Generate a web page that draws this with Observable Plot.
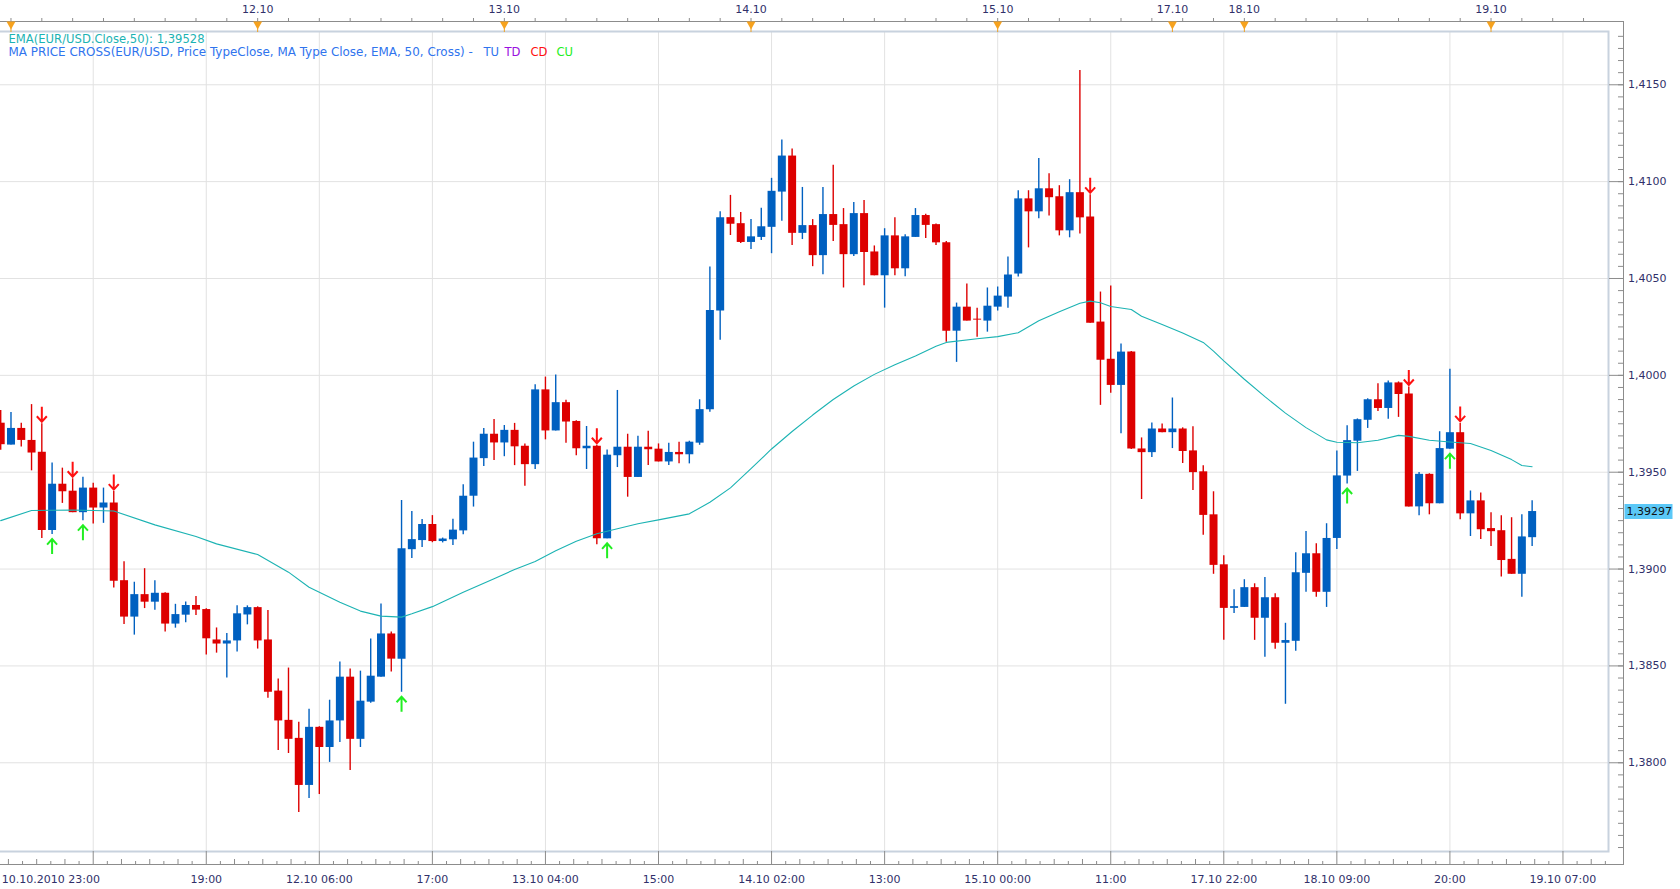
<!DOCTYPE html>
<html><head><meta charset="utf-8">
<script src="https://cdn.jsdelivr.net/npm/d3@7"></script>
<script src="https://cdn.jsdelivr.net/npm/@observablehq/plot@0.6"></script>
<style>
html,body{margin:0;padding:0;background:#fff;}
#chart{width:1680px;height:889px;overflow:hidden;}
</style></head><body><div id="chart"></div>
<script>
// ---- Data (EUR/USD hourly, candle index 0 = 10.10.2010 23:00) ----
const open = [
1.39753,1.39640,1.39726,1.39664,1.39603,1.39199,1.39438,1.39402,1.39291,1.39418,
1.39315,1.39341,1.38940,1.38752,1.38868,1.38829,1.38875,1.38716,1.38762,1.38812,
1.38791,1.38634,1.38613,1.38629,1.38763,1.38801,1.38634,1.38370,1.38219,1.38126,
1.37883,1.38183,1.38079,1.38216,1.38442,1.38121,1.38313,1.38442,1.38665,1.38535,
1.39100,1.39147,1.39230,1.39142,1.39151,1.39197,1.39376,1.39570,1.39696,1.39651,
1.39716,1.39634,1.39539,1.39925,1.39713,1.39859,1.39762,1.39621,1.39634,1.39156,
1.39585,1.39629,1.39473,1.39629,1.39619,1.39553,1.39602,1.39590,1.39650,1.39823,
1.40332,1.40814,1.40783,1.40686,1.40712,1.40764,1.40946,1.41132,1.40733,1.40773,
1.40618,1.40830,1.40778,1.40623,1.40835,1.40637,1.40514,1.40720,1.40550,1.40712,
1.40825,1.40778,1.40684,1.40228,1.40352,1.40290,1.40280,1.40352,1.40404,1.40523,
1.40911,1.40844,1.40963,1.40922,1.40746,1.40943,1.40818,1.40275,1.40083,1.39948,
1.40120,1.39620,1.39601,1.39723,1.39704,1.39723,1.39610,1.39502,1.39280,1.39022,
1.38797,1.38802,1.38904,1.38746,1.38852,1.38617,1.38627,1.38978,1.39079,1.38880,
1.39158,1.39480,1.39660,1.39768,1.39874,1.39829,1.39961,1.39904,1.39321,1.39489,
1.39337,1.39619,1.39704,1.39285,1.39352,1.39209,1.39198,1.39050,1.38973,1.39162];
const high = [
1.39818,1.39808,1.39753,1.39849,1.39750,1.39548,1.39521,1.39466,1.39474,1.39443,
1.39418,1.39400,1.39038,1.38932,1.39002,1.38940,1.38878,1.38818,1.38830,1.38858,
1.38795,1.38696,1.38668,1.38810,1.38810,1.38805,1.38786,1.38432,1.38489,1.38209,
1.38276,1.38186,1.38323,1.38520,1.38484,1.38473,1.38639,1.38820,1.38675,1.39354,
1.39297,1.39256,1.39276,1.39160,1.39257,1.39435,1.39655,1.39726,1.39772,1.39741,
1.39752,1.39646,1.39951,1.39991,1.40002,1.39871,1.39765,1.39736,1.39639,1.39614,
1.39922,1.39696,1.39685,1.39711,1.39646,1.39650,1.39655,1.39660,1.39874,1.40559,
1.40845,1.40929,1.40840,1.40804,1.40863,1.41017,1.41215,1.41168,1.40970,1.40804,
1.40970,1.41085,1.40861,1.40892,1.40903,1.40668,1.40757,1.40814,1.40726,1.40861,
1.40832,1.40781,1.40691,1.40373,1.40471,1.40347,1.40451,1.40456,1.40611,1.40953,
1.40953,1.41119,1.41041,1.40979,1.41010,1.41574,1.40932,1.40430,1.40461,1.40162,
1.40123,1.39677,1.39754,1.39749,1.39883,1.39729,1.39734,1.39533,1.39399,1.39069,
1.38893,1.38945,1.38924,1.38957,1.38873,1.38720,1.39084,1.39194,1.39131,1.39234,
1.39610,1.39740,1.39775,1.39879,1.39956,1.39971,1.39966,1.39940,1.39499,1.39492,
1.39709,1.40032,1.39752,1.39403,1.39393,1.39291,1.39275,1.39265,1.39280,1.39352];
const low = [
1.39613,1.39640,1.39630,1.39507,1.39158,1.39178,1.39339,1.39291,1.39250,1.39233,
1.39236,1.38902,1.38714,1.38659,1.38796,1.38788,1.38675,1.38695,1.38723,1.38760,
1.38556,1.38566,1.38437,1.38572,1.38712,1.38587,1.38333,1.38064,1.38048,1.37743,
1.37815,1.37836,1.38002,1.38105,1.37960,1.38079,1.38307,1.38442,1.38468,1.38364,
1.39054,1.39111,1.39136,1.39135,1.39121,1.39177,1.39320,1.39529,1.39560,1.39580,
1.39534,1.39427,1.39514,1.39667,1.39713,1.39650,1.39585,1.39514,1.39126,1.39156,
1.39524,1.39371,1.39473,1.39534,1.39553,1.39534,1.39543,1.39543,1.39639,1.39810,
1.40181,1.40722,1.40681,1.40649,1.40696,1.40628,1.40795,1.40670,1.40701,1.40561,
1.40519,1.40691,1.40451,1.40613,1.40462,1.40514,1.40347,1.40514,1.40509,1.40712,
1.40707,1.40670,1.40171,1.40067,1.40280,1.40197,1.40223,1.40332,1.40347,1.40508,
1.40658,1.40808,1.40823,1.40720,1.40710,1.40730,1.40269,1.39845,1.39907,1.39699,
1.39617,1.39359,1.39576,1.39704,1.39622,1.39545,1.39405,1.39174,1.38973,1.38632,
1.38771,1.38802,1.38632,1.38545,1.38586,1.38302,1.38576,1.38880,1.38854,1.38802,
1.39101,1.39439,1.39504,1.39726,1.39814,1.39773,1.39783,1.39321,1.39275,1.39280,
1.39337,1.39619,1.39255,1.39168,1.39152,1.39116,1.38959,1.38973,1.38855,1.39116];
const close = [
1.39642,1.39726,1.39664,1.39599,1.39199,1.39438,1.39399,1.39291,1.39418,1.39315,
1.39341,1.38937,1.38752,1.38868,1.38829,1.38875,1.38716,1.38765,1.38812,1.38788,
1.38640,1.38613,1.38629,1.38769,1.38801,1.38629,1.38364,1.38216,1.38121,1.37883,
1.38183,1.38079,1.38216,1.38442,1.38121,1.38318,1.38447,1.38665,1.38535,1.39105,
1.39152,1.39230,1.39142,1.39155,1.39201,1.39376,1.39573,1.39696,1.39651,1.39716,
1.39631,1.39539,1.39925,1.39713,1.39859,1.39759,1.39621,1.39634,1.39156,1.39588,
1.39629,1.39473,1.39629,1.39616,1.39553,1.39602,1.39590,1.39655,1.39823,1.40335,
1.40814,1.40780,1.40686,1.40715,1.40767,1.40950,1.41132,1.40733,1.40773,1.40618,
1.40830,1.40774,1.40623,1.40835,1.40634,1.40514,1.40720,1.40550,1.40715,1.40825,
1.40774,1.40684,1.40227,1.40352,1.40280,1.40285,1.40357,1.40409,1.40518,1.40911,
1.40844,1.40963,1.40917,1.40746,1.40943,1.40813,1.40269,1.40078,1.39948,1.40120,
1.39620,1.39601,1.39723,1.39704,1.39723,1.39607,1.39498,1.39277,1.39019,1.38797,
1.38806,1.38904,1.38746,1.38852,1.38617,1.38631,1.38981,1.39079,1.38880,1.39158,
1.39481,1.39663,1.39771,1.39874,1.39829,1.39961,1.39901,1.39321,1.39489,1.39337,
1.39622,1.39704,1.39285,1.39352,1.39203,1.39193,1.39044,1.38973,1.39166,1.39297];

// EMA(50) at these candle indices
const emaIdx = [0,3,7,11,15,19,21,25,28,30,33,35,37,39,40,42,45,48,50,52,54,56,58,60,62,64,67,69,71,73,75,77,79,81,83,85,87,89,91,92,95,97,99,101,103,105,106,107,108,110,111,113,115,117,118,119,121,123,125,127,129,130,132,134,136,137,139,141,143,145,147,148,149];
const emaVal = [1.39250,1.39302,1.39305,1.39300,1.39228,1.39168,1.39130,1.39075,1.38984,1.38906,
1.38829,1.38783,1.38757,1.38752,1.38769,1.38806,1.38880,1.38950,1.38998,1.39039,
1.39094,1.39144,1.39182,1.39208,1.39234,1.39254,1.39285,1.39345,1.39419,1.39518,
1.39620,1.39710,1.39795,1.39875,1.39945,1.40005,1.40055,1.40100,1.40150,1.40170,
1.40189,1.40200,1.40220,1.40282,1.40328,1.40372,1.40383,1.40375,1.40355,1.40340,
1.40305,1.40262,1.40218,1.40170,1.40125,1.40075,1.39980,1.39890,1.39805,1.39730,
1.39667,1.39655,1.39652,1.39665,1.39690,1.39685,1.39665,1.39656,1.39648,1.39612,
1.39565,1.39535,1.39528];

const crossDownIdx = [4, 7, 11, 58, 106, 137, 142];   // CD signals
const crossUpIdx = [5, 8, 39, 59, 131, 141];           // CU signals

const gridIdx = [9,20,31,42,53,64,75,86,97,108,119,130,141,152];
const timeTickIdx = [0,20,31,42,53,64,75,86,97,108,119,130,141,152];
const timeTickLabels = ["10.10.2010 23:00","19:00","12.10 06:00","17:00","13.10 04:00","15:00","14.10 02:00","13:00","15.10 00:00","11:00","17.10 22:00","18.10 09:00","20:00","19.10 07:00"];
const dayIdx = [1, 25, 49, 73, 97, 114, 121, 145];
const dayLabels = ["11.10","12.10","13.10","14.10","15.10","17.10","18.10","19.10"];
const priceTicks = [1.380,1.385,1.390,1.395,1.400,1.405,1.410,1.415];
const lastPrice = 1.39297;
const emaLast = 1.39528;

// ---- Derived ----
const fmt4 = v => v.toFixed(4).replace(".", ",");
const fmt5 = v => v.toFixed(5).replace(".", ",");
const candles = open.map((o, i) => ({i, o, h: high[i], l: low[i], c: close[i], up: close[i] >= o}));
const ema = emaIdx.map((i, k) => ({i, v: emaVal[k]}));
const downSig = crossDownIdx.map(i => candles[i]);
const upSig = crossUpIdx.map(i => candles[i]);
const xDomain = [-0.02, 156.43];
const yDomain = [1.37542, 1.41775];
const topTicks = d3.range(1, 157, 3);
const majorsX = [-2, ...gridIdx];
const minorA = [], minorB = [];
for (const m of majorsX) for (let k = 1; k < 8; k++) {
  const v = m + k * 11 / 8;
  if (v > xDomain[0] && v < xDomain[1]) (k % 2 ? minorA : minorB).push(v);
}
const minorY = d3.range(0, 70).map(k => 1.375 + k * 0.000625).filter(v => v > yDomain[0] && v < yDomain[1]);

const BLUE = "#0060c0", RED = "#dd0000", TEAL = "#1cb3b3", AXIS = "#8c8c8c", LBL = "#30306a";
const arrowDown = {draw(ctx) { ctx.moveTo(0, -15); ctx.lineTo(0, 0); ctx.moveTo(-5, -5.5); ctx.lineTo(0, 0); ctx.lineTo(5, -5.5); }};
const arrowUp = {draw(ctx) { ctx.moveTo(0, 15); ctx.lineTo(0, 0); ctx.moveTo(-5, 5.5); ctx.lineTo(0, 0); ctx.lineTo(5, 5.5); }};
const triDown = {draw(ctx) { ctx.moveTo(-4.5, 0); ctx.lineTo(4.5, 0); ctx.lineTo(0, 8); ctx.closePath(); }};
const priceBox = {draw(ctx) { ctx.rect(0, -7.5, 48, 15); }};

const chart = Plot.plot({
  width: 1680, height: 889,
  marginLeft: 0, marginRight: 72, marginTop: 31, marginBottom: 38,
  x: {domain: xDomain, axis: null},
  y: {domain: yDomain, axis: null},
  style: {fontFamily: "'DejaVu Sans', sans-serif", fontSize: "11px", color: LBL, background: "#fff", overflow: "visible"},
  marks: [
    // grid
    Plot.ruleY(priceTicks, {stroke: "#e2e2e2"}),
    Plot.ruleX(gridIdx, {stroke: "#e2e2e2"}),
    // frames
    Plot.frame({stroke: "#c8d2de", strokeWidth: 2, insetLeft: -4}),
    Plot.frame({stroke: AXIS, insetTop: -10, insetRight: -15, insetBottom: -13, insetLeft: -6}),
    // top time axis
    Plot.axisX({anchor: "top", ticks: topTicks, tickSize: 4, dy: -10, fill: "none", stroke: AXIS}),
    Plot.axisX({anchor: "top", ticks: dayIdx, tickSize: 10, fill: "none", stroke: "#f0a020"}),
    Plot.dot(dayIdx, {x: d => d, frameAnchor: "top", dy: -10, symbol: triDown, fill: "#f6a21e", stroke: "none"}),
    Plot.text(dayIdx.slice(1), {x: d => d, text: (d, k) => dayLabels[k + 1], frameAnchor: "top", lineAnchor: "middle", dy: -22.5, fill: LBL}),
    // bottom time axis
    Plot.axisX({anchor: "bottom", ticks: gridIdx, tickSize: 13, fill: "none", stroke: AXIS}),
    Plot.axisX({anchor: "bottom", ticks: minorA, tickSize: 3, dy: 10, fill: "none", stroke: AXIS}),
    Plot.axisX({anchor: "bottom", ticks: minorB, tickSize: 5, dy: 8, fill: "none", stroke: AXIS}),
    Plot.text([0], {x: d => timeTickIdx[d], text: d => timeTickLabels[d], frameAnchor: "bottom", lineAnchor: "middle", dy: 27.5, dx: 1, textAnchor: "start", fill: LBL}),
    Plot.text(d3.range(1, timeTickIdx.length), {x: d => timeTickIdx[d], text: d => timeTickLabels[d], frameAnchor: "bottom", lineAnchor: "middle", dy: 27.5, fill: LBL}),
    // right price axis
    Plot.axisY({anchor: "right", ticks: priceTicks, tickSize: 15, tickPadding: 4.5, tickFormat: fmt4, fill: LBL, stroke: AXIS, textAnchor: "start"}),
    Plot.axisY({anchor: "right", ticks: minorY, tickSize: 6, dx: 9, fill: "none", stroke: AXIS}),
    // candles
    Plot.ruleX(candles, {x: "i", y1: "l", y2: "h", stroke: d => d.up ? BLUE : RED, strokeWidth: 1.4}),
    Plot.ruleX(candles, {x: "i", y1: "o", y2: "c", stroke: d => d.up ? BLUE : RED, strokeWidth: 8}),
    // EMA
    Plot.line(ema, {x: "i", y: "v", stroke: TEAL, strokeWidth: 1.1}),
    // cross signals
    Plot.dot(downSig, {x: "i", y: "h", dy: -2, symbol: arrowDown, stroke: "#ff1010", fill: "none", strokeWidth: 2}),
    Plot.dot(upSig, {x: "i", y: "l", dy: 4.5, symbol: arrowUp, stroke: "#22ee22", fill: "none", strokeWidth: 2}),
    // last price marker
    Plot.dot([lastPrice], {y: d => d, frameAnchor: "right", dx: 16, symbol: priceBox, fill: "#5bc8f7", stroke: "none"}),
    Plot.text([lastPrice], {y: d => d, frameAnchor: "right", dx: 18, text: fmt5, textAnchor: "start", fill: "#111"}),
    // legend
    Plot.text([`EMA(EUR/USD.Close,50): ${fmt5(emaLast)}`], {frameAnchor: "top-left", lineAnchor: "middle", dx: 8, dy: 7.5, text: d => d, textAnchor: "start", fill: TEAL, fontSize: 11.6}),
    Plot.text(["MA PRICE CROSS(EUR/USD, Price TypeClose, MA Type Close, EMA, 50, Cross) -"], {frameAnchor: "top-left", lineAnchor: "middle", dx: 8, dy: 20.5, text: d => d, textAnchor: "start", fill: "#2f74ee", fontSize: 11.95}),
    Plot.text(["TU"], {frameAnchor: "top-left", lineAnchor: "middle", dx: 483, dy: 20.5, text: d => d, textAnchor: "start", fill: "#2f74ee", fontSize: 11.6}),
    Plot.text(["TD"], {frameAnchor: "top-left", lineAnchor: "middle", dx: 504, dy: 20.5, text: d => d, textAnchor: "start", fill: "#9a10e0", fontSize: 11.6}),
    Plot.text(["CD"], {frameAnchor: "top-left", lineAnchor: "middle", dx: 530, dy: 20.5, text: d => d, textAnchor: "start", fill: "#ff1010", fontSize: 11.6}),
    Plot.text(["CU"], {frameAnchor: "top-left", lineAnchor: "middle", dx: 556, dy: 20.5, text: d => d, textAnchor: "start", fill: "#22ee22", fontSize: 11.6})
  ]
});
document.getElementById("chart").appendChild(chart);
</script>
</body></html>
